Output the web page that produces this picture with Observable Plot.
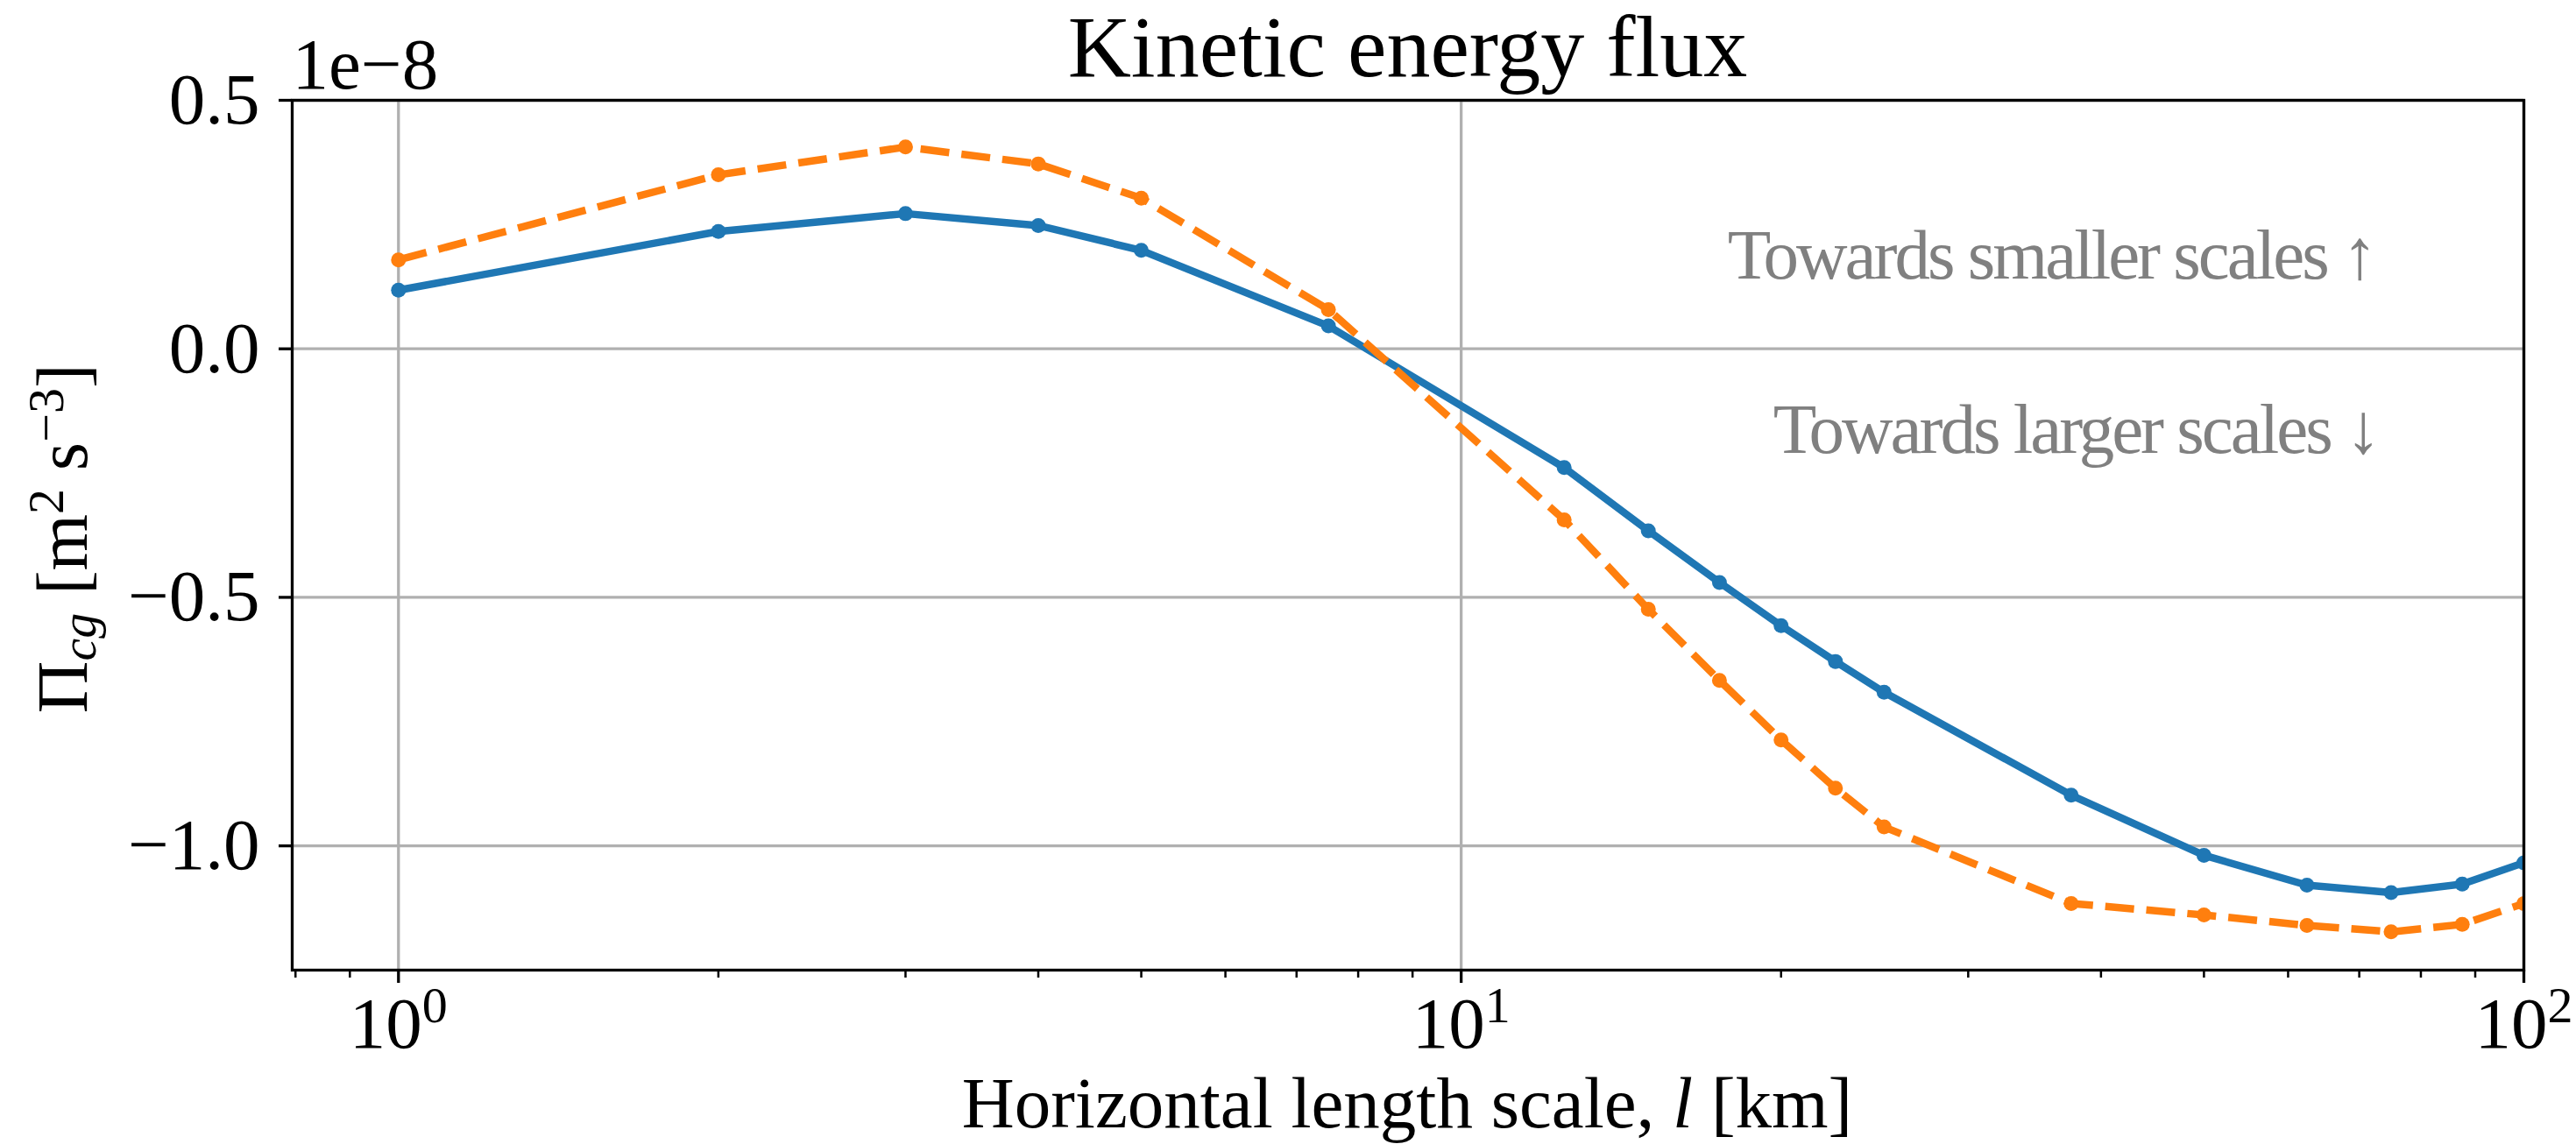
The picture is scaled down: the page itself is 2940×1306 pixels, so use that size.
<!DOCTYPE html>
<html><head><meta charset="utf-8">
<script src="https://cdn.jsdelivr.net/npm/d3@7"></script>
<script src="https://cdn.jsdelivr.net/npm/@observablehq/plot@0.6"></script>
<style>
html,body{margin:0;padding:0;background:#fff;}
#title{height:100px;margin-left:333px;width:2547px;text-align:center;font-family:"Liberation Serif",serif;font-size:100px;line-height:108px;white-space:nowrap;color:#000;}
#chart svg{display:block;}
#chart svg text{font-family:"Liberation Serif",serif;}
</style></head><body>
<div id="title">Kinetic energy flux</div>
<div id="chart"></div>
<script>
// Horizontal length scale l [km]
const scales = [1, 2, 3, 4, 5, 7.5, 12.5, 15, 17.5, 20, 22.5, 25, 37.5, 50, 62.5, 75, 87.5, 100];
// Kinetic energy flux (units of 1e-8 m^2 s^-3)
const fluxSolid  = [0.118, 0.236, 0.272, 0.248, 0.198, 0.046, -0.239, -0.366, -0.470, -0.557, -0.629, -0.691, -0.898, -1.019, -1.079, -1.094, -1.077, -1.034];
const fluxDashed = [0.179, 0.350, 0.406, 0.372, 0.303, 0.079, -0.344, -0.524, -0.667, -0.787, -0.884, -0.962, -1.116, -1.139, -1.160, -1.173, -1.158, -1.116];
const yTicks = [0.5, 0.0, -0.5, -1.0];
const xTicks = [1, 10, 100];
const xMinorTicks = [0.8, 0.9, 2, 3, 4, 5, 6, 7, 8, 9, 20, 30, 40, 50, 60, 70, 80, 90];
const annotations = ["Towards smaller scales ↑", "Towards larger scales ↓"];
const offsetLabel = "1e−8";
const xLabelParts = ["Horizontal length scale, ", "l", " [km]"];

const solid = scales.map((l, i) => ({l, flux: fluxSolid[i]}));
const dashed = scales.map((l, i) => ({l, flux: fluxDashed[i]}));

const blue = "#1f77b4", orange = "#ff7f0e", gridColor = "#b0b0b0";
const serif = "'Liberation Serif', serif";

const svg = Plot.plot({
  width: 2940,
  height: 1206,
  marginLeft: 333,
  marginRight: 60,
  marginTop: 14,
  marginBottom: 199,
  x: {type: "log", domain: [Math.pow(10, -0.1), 100]},
  y: {domain: [-1.25, 0.5]},
  style: {fontFamily: serif, fontSize: "83px", color: "black", background: "white", overflow: "visible"},
  marks: [
    Plot.gridX(xTicks, {stroke: gridColor, strokeOpacity: 1, strokeWidth: 3.3}),
    Plot.gridY(yTicks, {stroke: gridColor, strokeOpacity: 1, strokeWidth: 3.3}),
    Plot.line(solid, {x: "l", y: "flux", stroke: blue, strokeWidth: 8.5, clip: true}),
    Plot.dot(solid, {x: "l", y: "flux", fill: blue, r: 8.5, clip: true}),
    Plot.line(dashed, {x: "l", y: "flux", stroke: orange, strokeWidth: 8.5, strokeDasharray: "33,14", strokeLinecap: "butt", clip: true}),
    Plot.dot(dashed, {x: "l", y: "flux", fill: orange, r: 8.5, clip: true}),
    Plot.frame({stroke: "black", strokeWidth: 3.3}),
    Plot.axisY(yTicks, {tickSize: 15, tickPadding: 22, tickFormat: d3.format(".1f"), strokeWidth: 3.3, label: null}),
    Plot.axisX(xMinorTicks, {tickSize: 9, tickFormat: () => "", strokeWidth: 2.5, label: null}),
    Plot.axisX(xTicks, {tickSize: 15, tickPadding: 15, tickFormat: d => `10^${Math.round(Math.log10(d))}`, strokeWidth: 3.3, label: null}),
    Plot.text([offsetLabel], {frameAnchor: "top-left", textAnchor: "start", lineAnchor: "bottom", dy: -14, fill: "black", fontFamily: serif, fontSize: 83}),
    Plot.text([annotations[0]], {frameAnchor: "top-right", textAnchor: "end", lineAnchor: "middle", dx: -170, dy: 178, fill: "#808080", fontFamily: serif, fontSize: 81}),
    Plot.text([annotations[1]], {frameAnchor: "top-right", textAnchor: "end", lineAnchor: "middle", dx: -166, dy: 377, fill: "#808080", fontFamily: serif, fontSize: 81})
  ]
});

document.getElementById("chart").appendChild(svg);
const s = d3.select(svg);

// Tighter spacing for the annotation texts
s.selectAll("text").filter(function() { return annotations.includes(this.textContent); })
  .style("letter-spacing", "-3px");

// Superscript exponents for log tick labels
s.selectAll('g[aria-label="x-axis tick label"] text').each(function() {
  const txt = this.textContent;
  if (!txt.includes("^")) return;
  const [b, e] = txt.split("^");
  const t = d3.select(this);
  t.text(null);
  t.append("tspan").text(b);
  t.append("tspan").attr("dy", -29).attr("font-size", 58).text(e);
});

// Y axis label: Π_cg [m^2 s^-3]
const yl = s.append("text")
  .attr("transform", "translate(99,515) rotate(-90)")
  .attr("text-anchor", "middle").attr("font-size", 83).attr("fill", "black")
  .style("white-space", "pre");
yl.append("tspan").text("Π");
yl.append("tspan").attr("font-style", "italic").attr("font-size", 58).attr("dy", 10).text("cg");
yl.append("tspan").attr("dy", -10).text(" [m");
yl.append("tspan").attr("font-size", 58).attr("dy", -27).text("2");
yl.append("tspan").attr("dy", 27).text(" s");
yl.append("tspan").attr("font-size", 58).attr("dy", -27).text("−3");
yl.append("tspan").attr("dy", 27).text("]");

// X axis label
const xl = s.append("text")
  .attr("x", 1606).attr("y", 1187)
  .attr("text-anchor", "middle").attr("font-size", 83).attr("fill", "black")
  .style("white-space", "pre");
xl.append("tspan").text(xLabelParts[0]);
xl.append("tspan").attr("font-style", "italic").text(xLabelParts[1]);
xl.append("tspan").text(xLabelParts[2]);
</script>
</body></html>
